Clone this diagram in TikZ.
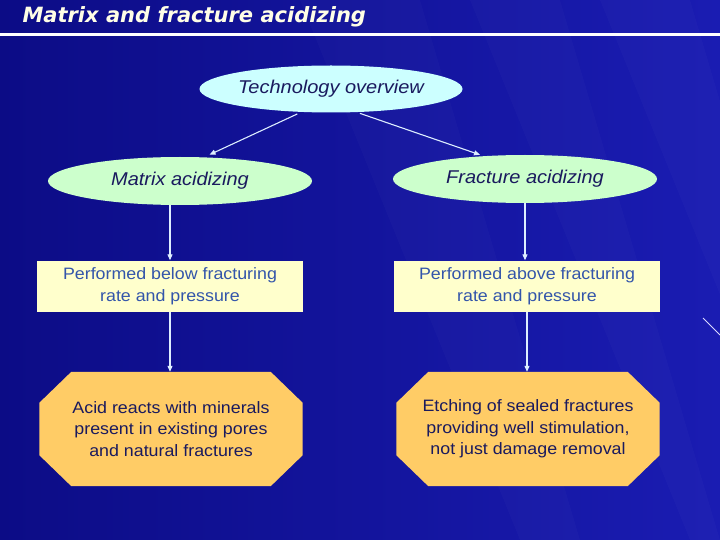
\documentclass[tikz,border=0pt]{standalone}
\usepackage{fontspec}
\setmainfont{Liberation Sans}[FakeStretch=1.08]
\newfontfamily\titlefont{DejaVu Sans}
\usetikzlibrary{arrows.meta,shapes.geometric,backgrounds}
\definecolor{bgdark}{HTML}{0C0C86}
\definecolor{bglight}{HTML}{1A1CB2}
\definecolor{techfill}{HTML}{CCFFFF}
\definecolor{ovalfill}{HTML}{CCFFCC}
\definecolor{notefill}{HTML}{FFFFCC}
\definecolor{octfill}{HTML}{FFCC66}
\definecolor{inktxt}{HTML}{1A1A5E}
\definecolor{notetxt}{HTML}{3355AA}
\definecolor{wirecol}{HTML}{DDEEFF}
\tikzset{
  oval/.style  = {ellipse, fill=ovalfill, inner sep=0pt, minimum width=264pt,
                  minimum height=48pt, text=inktxt,
                  font=\fontsize{18.5}{22}\selectfont\itshape},
  note/.style  = {rectangle, fill=notefill, inner sep=0pt, minimum width=266pt,
                  minimum height=51pt, align=center, text=notetxt,
                  font=\fontsize{16.5}{22}\selectfont},
  oct/.style   = {rectangle, inner sep=0pt, minimum width=263pt,
                  minimum height=114pt, align=center, text=inktxt,
                  font=\fontsize{16.5}{21.5}\selectfont},
  link/.style  = {-{Triangle[length=6pt,width=5pt]}, wirecol, line width=1.1pt},
}
\newcommand\octfill[1]{%
  \fill[octfill] ([xshift=32pt]#1.north west) -- ([xshift=-32pt]#1.north east)
    -- ([yshift=-31pt]#1.north east) -- ([yshift=31pt]#1.south east)
    -- ([xshift=-32pt]#1.south east) -- ([xshift=32pt]#1.south west)
    -- ([yshift=31pt]#1.south west) -- ([yshift=-31pt]#1.north west) -- cycle;}
\begin{document}
\begin{tikzpicture}[x=1pt,y=-1pt]
  \useasboundingbox (0,0) rectangle (720,540);

  \node[anchor=west,text=white!90!yellow,
        font=\titlefont\bfseries\itshape\fontsize{21}{24}\selectfont]
    (title) at (19,17) {Matrix and fracture acidizing};

  \node[oval,fill=techfill,minimum width=263pt,minimum height=47pt] (tech) at (331,89)
    {Technology overview};
  \node[oval] (matrix) at (180,181) {Matrix acidizing};
  \node[oval] (fracture) at (525,179) {Fracture acidizing};

  \node[note] (noteL) at (170,286) {Performed below fracturing\\rate and pressure};
  \node[note] (noteR) at (527,286) {Performed above fracturing\\rate and pressure};

  \node[oct] (octL) at (171,429)
    {Acid reacts with minerals\\present in existing pores\\and natural fractures};
  \node[oct] (octR) at (528,429)
    {Etching of sealed fractures\\providing well stimulation,\\not just damage removal};

  \begin{scope}[on background layer]
    \shade[left color=bgdark, right color=bglight] (0,0) rectangle (720,540);
    \foreach \a/\b in {300/420,470/560,600/690}{
      \fill[white,opacity=0.02] (\a,0) -- (\b,0) -- (\b+160,540) -- (\a+220,540) -- cycle;}
    \draw[white!85!blue,line width=0.8pt] (703,318) -- (720,335);
    \draw[white,line width=3pt] (0,35) -- (720,35);
    \octfill{octL}
    \octfill{octR}
  \end{scope}

  \draw[link,shorten <=3pt,shorten >=5pt] ([xshift=-31pt]tech.south) -- ([xshift=25pt]matrix.north);
  \draw[link,shorten <=2pt] ([xshift=27pt]tech.south) -- ([xshift=-45pt]fracture.north);
  \draw[link] (matrix.south -| noteL) -- (noteL.north);
  \draw[link] (fracture.south) -- (noteR.north -| fracture);
  \draw[link] (noteL.south) -- (octL.north -| noteL);
  \draw[link] (noteR.south) -- (octR.north -| noteR);
\end{tikzpicture}
\end{document}
